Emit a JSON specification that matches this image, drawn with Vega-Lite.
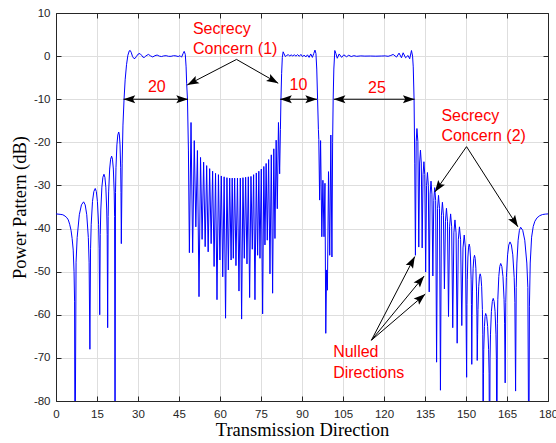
{
  "$schema": "https://vega.github.io/schema/vega-lite/v6.json",
  "width": 492,
  "height": 388,
  "autosize": {"type": "none"},
  "padding": {"left": 56, "top": 13, "right": 8, "bottom": 42},
  "background": "white",
  "config": {"view": {"stroke": null}},
  "datasets": {
    "pattern": [
      {"dir":0,"pp":-36.6},{"dir":1.5,"pp":-36.7},{"dir":2.5,"pp":-36.8},{"dir":3.3,"pp":-37.1},{"dir":4.0,"pp":-37.5},{"dir":4.5,"pp":-38.0},{"dir":5.0,"pp":-39.0},{"dir":5.5,"pp":-40.4},{"dir":5.9,"pp":-42.3},{"dir":6.3,"pp":-45},{"dir":6.6,"pp":-50},{"dir":6.8,"pp":-57},{"dir":6.95,"pp":-100},
      {"dir":7.34,"pp":-47.8},{"dir":7.74,"pp":-42.1},{"dir":8.53,"pp":-36.8},{"dir":9.31,"pp":-34.5},{"dir":10.1,"pp":-33.8},{"dir":10.68,"pp":-34.5},{"dir":11.25,"pp":-36.8},{"dir":11.83,"pp":-42.1},{"dir":12.11,"pp":-47.8},{"dir":12.4,"pp":-68},
      {"dir":12.64,"pp":-44.7},{"dir":12.88,"pp":-39},{"dir":13.35,"pp":-33.7},{"dir":13.85,"pp":-31.4},{"dir":14.35,"pp":-30.7},{"dir":14.75,"pp":-31.4},{"dir":15.15,"pp":-33.7},{"dir":15.58,"pp":-39},{"dir":15.79,"pp":-44.7},{"dir":16.0,"pp":-60},
      {"dir":16.19,"pp":-41.4},{"dir":16.39,"pp":-35.7},{"dir":16.78,"pp":-30.4},{"dir":17.16,"pp":-28.1},{"dir":17.55,"pp":-27.4},{"dir":17.89,"pp":-28.1},{"dir":18.23,"pp":-30.4},{"dir":18.56,"pp":-35.7},{"dir":18.73,"pp":-41.4},{"dir":18.9,"pp":-63},
      {"dir":19.08,"pp":-37.2},{"dir":19.26,"pp":-31.5},{"dir":19.63,"pp":-26.2},{"dir":19.99,"pp":-23.9},{"dir":20.35,"pp":-23.2},{"dir":20.66,"pp":-23.9},{"dir":20.98,"pp":-26.2},{"dir":21.29,"pp":-31.5},{"dir":21.44,"pp":-37.2},{"dir":21.6,"pp":-100},
      {"dir":21.77,"pp":-31.6},{"dir":21.94,"pp":-25.9},{"dir":22.28,"pp":-20.6},{"dir":22.61,"pp":-18.3},{"dir":22.95,"pp":-17.6},{"dir":23.19,"pp":-18.3},{"dir":23.43,"pp":-20.6},{"dir":23.66,"pp":-25.9},{"dir":23.78,"pp":-31.6},{"dir":23.9,"pp":-43.5},
      {"dir":24.2,"pp":-25},{"dir":24.5,"pp":-16},{"dir":24.9,"pp":-10},{"dir":25.3,"pp":-5.5},{"dir":25.8,"pp":-2},{"dir":26.3,"pp":0.2},{"dir":26.8,"pp":1.2},{"dir":27.1,"pp":1.35},{"dir":27.5,"pp":0.9},{"dir":28.0,"pp":-0.1},{"dir":28.5,"pp":-0.55},{"dir":28.9,"pp":-0.55},{"dir":29.4,"pp":-0.1},{"dir":30.0,"pp":0.45},{"dir":30.7,"pp":0.6},{"dir":31.3,"pp":0.2},{"dir":31.8,"pp":-0.25},{"dir":32.3,"pp":-0.3},{"dir":32.9,"pp":0.05},{"dir":33.8,"pp":0.4},{"dir":34.6,"pp":0.05},{"dir":35.4,"pp":-0.2},{"dir":36.2,"pp":0.1},{"dir":37.0,"pp":0.25},{"dir":37.8,"pp":0.0},{"dir":38.6,"pp":-0.1},{"dir":39.4,"pp":0.05},{"dir":40.3,"pp":0.1},{"dir":41.2,"pp":-0.05},{"dir":42.1,"pp":-0.05},{"dir":43.0,"pp":0.1},{"dir":43.9,"pp":0.05},{"dir":44.7,"pp":-0.1},{"dir":45.4,"pp":0.1},{"dir":45.95,"pp":-0.25},{"dir":46.5,"pp":0.6},{"dir":46.9,"pp":1.1},{"dir":47.3,"pp":0.4},{"dir":47.6,"pp":-2.5},{"dir":47.8,"pp":-6.3},{"dir":48.1,"pp":-10},{"dir":48.45,"pp":-22},{"dir":48.8,"pp":-45.6},
      {"dir":49.4,"pp":-15.4},{"dir":50.0,"pp":-45.6},{"dir":50.58,"pp":-19.6},{"dir":51.16,"pp":-39.6},{"dir":51.74,"pp":-21.9},{"dir":52.32,"pp":-55.8},{"dir":52.88,"pp":-23.5},{"dir":53.45,"pp":-42.5},{"dir":54.01,"pp":-24.6},{"dir":54.57,"pp":-44.2},{"dir":55.12,"pp":-25.4},{"dir":55.67,"pp":-45.4},{"dir":56.22,"pp":-26.1},{"dir":56.76,"pp":-43.5},{"dir":57.3,"pp":-26.7},{"dir":57.84,"pp":-48.8},{"dir":58.37,"pp":-27.2},{"dir":58.9,"pp":-56.5},{"dir":59.43,"pp":-27.5},{"dir":59.96,"pp":-47.3},{"dir":60.48,"pp":-27.8},{"dir":61.0,"pp":-51.2},{"dir":61.52,"pp":-28.0},{"dir":62.03,"pp":-60.8},{"dir":62.54,"pp":-28.2},{"dir":63.05,"pp":-49.6},{"dir":63.55,"pp":-28.3},{"dir":64.06,"pp":-47.3},
      {"dir":64.47,"pp":-28.3},{"dir":64.87,"pp":-46.9},{"dir":65.36,"pp":-28.3},{"dir":65.84,"pp":-48.6},{"dir":66.39,"pp":-28.3},{"dir":66.94,"pp":-54.5},{"dir":67.43,"pp":-28.3},{"dir":67.91,"pp":-61},{"dir":68.4,"pp":-28.2},{"dir":68.89,"pp":-46.9},{"dir":69.38,"pp":-28.1},{"dir":69.87,"pp":-48.2},{"dir":70.36,"pp":-28.0},{"dir":70.84,"pp":-56},{"dir":71.33,"pp":-27.9},{"dir":71.82,"pp":-44.8},{"dir":72.3,"pp":-27.5},{"dir":72.79,"pp":-56.5},{"dir":73.28,"pp":-27.1},{"dir":73.77,"pp":-46.2},{"dir":74.2,"pp":-26.7},{"dir":74.62,"pp":-46.9},{"dir":75.11,"pp":-26.2},{"dir":75.6,"pp":-59.8},{"dir":76.03,"pp":-25.6},{"dir":76.45,"pp":-43.8},{"dir":76.88,"pp":-24.9},{"dir":77.3,"pp":-42.7},{"dir":77.79,"pp":-24.0},{"dir":78.28,"pp":-50.5},{"dir":78.77,"pp":-22.9},{"dir":79.25,"pp":-55},{"dir":79.68,"pp":-21.5},{"dir":80.11,"pp":-42.3},{"dir":80.54,"pp":-19.5},{"dir":80.96,"pp":-35.4},{"dir":81.39,"pp":-15.4},{"dir":81.82,"pp":-27.3},
      {"dir":82.1,"pp":-17},{"dir":82.3,"pp":-10},{"dir":82.55,"pp":-4},{"dir":82.8,"pp":-0.3},{"dir":83.1,"pp":1.0},{"dir":83.45,"pp":0.5},{"dir":83.9,"pp":-0.1},{"dir":84.4,"pp":0.15},{"dir":85.0,"pp":0.35},{"dir":85.5,"pp":0.0},{"dir":86.0,"pp":0.3},{"dir":86.6,"pp":0.05},{"dir":87.2,"pp":0.3},{"dir":87.8,"pp":0.0},{"dir":88.4,"pp":0.35},{"dir":89.0,"pp":-0.05},{"dir":89.6,"pp":0.4},{"dir":90.2,"pp":-0.15},{"dir":90.8,"pp":0.25},{"dir":91.4,"pp":-0.2},{"dir":92.0,"pp":0.3},{"dir":92.6,"pp":-0.3},{"dir":93.2,"pp":0.5},{"dir":93.8,"pp":-0.3},{"dir":94.3,"pp":0.6},{"dir":94.75,"pp":1.4},{"dir":95.1,"pp":0.6},{"dir":95.4,"pp":-3},{"dir":95.7,"pp":-10},
      {"dir":96.0,"pp":-17},{"dir":96.15,"pp":-19.3},{"dir":96.45,"pp":-33.4},{"dir":96.8,"pp":-19.6},{"dir":97.25,"pp":-41.9},{"dir":97.65,"pp":-28.8},{"dir":98.05,"pp":-41.9},{"dir":98.4,"pp":-29.5},{"dir":98.7,"pp":-64.3},{"dir":99.0,"pp":-49.6},{"dir":99.3,"pp":-54.3},{"dir":99.7,"pp":-26.8},{"dir":100.15,"pp":-46.2},{"dir":100.55,"pp":-18.3},{"dir":100.95,"pp":-46.6},
      {"dir":101.2,"pp":-20},{"dir":101.4,"pp":-10},{"dir":101.65,"pp":-3},{"dir":102.0,"pp":1.3},{"dir":102.4,"pp":0.6},{"dir":102.9,"pp":-0.5},{"dir":103.6,"pp":0.5},{"dir":104.5,"pp":-0.3},{"dir":105.3,"pp":0.3},{"dir":106.3,"pp":-0.15},{"dir":107.1,"pp":0.2},{"dir":108.0,"pp":-0.1},{"dir":109.0,"pp":0.1},{"dir":110.0,"pp":-0.05},{"dir":111.5,"pp":0.05},{"dir":113.0,"pp":0},{"dir":115.0,"pp":0.02},{"dir":117.0,"pp":-0.02},{"dir":119.0,"pp":0.02},{"dir":120.5,"pp":0.05},{"dir":121.5,"pp":-0.05},{"dir":122.5,"pp":0.15},{"dir":123.35,"pp":0.39},{"dir":124.6,"pp":-0.23},{"dir":125.5,"pp":0.7},{"dir":126.4,"pp":-0.39},{"dir":127.0,"pp":0.77},{"dir":127.9,"pp":-0.39},{"dir":128.8,"pp":0.15},{"dir":129.4,"pp":-0.62},{"dir":130.05,"pp":1.3},{"dir":130.45,"pp":0.0},{"dir":130.7,"pp":-2.5},{"dir":131.0,"pp":-10},{"dir":131.25,"pp":-25},{"dir":131.5,"pp":-46.2},
      {"dir":131.78,"pp":-19.8},{"dir":132.05,"pp":-16.8},{"dir":132.39,"pp":-19.8},{"dir":132.72,"pp":-44.3},{"dir":133.03,"pp":-24.8},{"dir":133.34,"pp":-21.8},{"dir":133.65,"pp":-24.8},{"dir":133.96,"pp":-44.5},{"dir":134.28,"pp":-27.5},{"dir":134.6,"pp":-24.5},{"dir":134.92,"pp":-27.5},{"dir":135.24,"pp":-50.1},{"dir":135.57,"pp":-30},{"dir":135.89,"pp":-27},{"dir":136.22,"pp":-30},{"dir":136.54,"pp":-54.7},{"dir":136.87,"pp":-32},{"dir":137.2,"pp":-29},{"dir":137.54,"pp":-32},{"dir":137.87,"pp":-51},{"dir":138.21,"pp":-33.5},{"dir":138.55,"pp":-30.5},{"dir":138.9,"pp":-33.5},{"dir":139.24,"pp":-71},{"dir":139.6,"pp":-35.3},{"dir":139.95,"pp":-32.3},{"dir":140.3,"pp":-35.3},{"dir":140.65,"pp":-77.5},{"dir":141.01,"pp":-36.9},{"dir":141.37,"pp":-33.9},{"dir":141.74,"pp":-36.9},{"dir":142.1,"pp":-54},{"dir":142.48,"pp":-38.3},{"dir":142.85,"pp":-35.3},{"dir":143.23,"pp":-38.3},{"dir":143.6,"pp":-60.4},{"dir":143.99,"pp":-39.6},{"dir":144.37,"pp":-36.6},{"dir":144.76,"pp":-39.6},{"dir":145.15,"pp":-63},{"dir":145.56,"pp":-41},{"dir":145.96,"pp":-38},{"dir":146.37,"pp":-41},{"dir":146.77,"pp":-66.6},{"dir":147.19,"pp":-42.6},{"dir":147.6,"pp":-39.6},{"dir":148.03,"pp":-42.6},{"dir":148.46,"pp":-62.5},{"dir":148.9,"pp":-44.5},{"dir":149.35,"pp":-41.5},{"dir":149.79,"pp":-44.5},{"dir":150.23,"pp":-74.5},
      {"dir":150.35,"pp":-57.6},{"dir":150.47,"pp":-51.9},{"dir":150.7,"pp":-46.6},{"dir":150.94,"pp":-44.3},{"dir":151.17,"pp":-43.6},{"dir":151.41,"pp":-44.3},{"dir":151.64,"pp":-46.6},{"dir":151.88,"pp":-51.9},{"dir":151.99,"pp":-57.6},{"dir":152.11,"pp":-71.5},
      {"dir":152.24,"pp":-60.2},{"dir":152.36,"pp":-54.5},{"dir":152.61,"pp":-49.2},{"dir":152.86,"pp":-46.9},{"dir":153.11,"pp":-46.2},{"dir":153.36,"pp":-46.9},{"dir":153.61,"pp":-49.2},{"dir":153.86,"pp":-54.5},{"dir":153.99,"pp":-60.2},{"dir":154.11,"pp":-70.6},
      {"dir":154.25,"pp":-64.5},{"dir":154.38,"pp":-58.8},{"dir":154.65,"pp":-53.5},{"dir":154.92,"pp":-51.2},{"dir":155.19,"pp":-50.5},{"dir":155.46,"pp":-51.2},{"dir":155.73,"pp":-53.5},{"dir":156.0,"pp":-58.8},{"dir":156.14,"pp":-64.5},{"dir":156.27,"pp":-100},
      {"dir":156.39,"pp":-73.7},{"dir":156.5,"pp":-68},{"dir":156.74,"pp":-62.7},{"dir":156.97,"pp":-60.4},{"dir":157.2,"pp":-59.7},{"dir":157.56,"pp":-60.4},{"dir":157.92,"pp":-62.7},{"dir":158.27,"pp":-68},{"dir":158.45,"pp":-73.7},{"dir":158.63,"pp":-100},
      {"dir":158.8,"pp":-70.2},{"dir":158.96,"pp":-64.5},{"dir":159.3,"pp":-59.2},{"dir":159.63,"pp":-56.9},{"dir":159.96,"pp":-56.2},{"dir":160.29,"pp":-56.9},{"dir":160.63,"pp":-59.2},{"dir":160.96,"pp":-64.5},{"dir":161.12,"pp":-70.2},{"dir":161.29,"pp":-100},
      {"dir":161.47,"pp":-62.1},{"dir":161.64,"pp":-56.4},{"dir":162.0,"pp":-51.1},{"dir":162.35,"pp":-48.8},{"dir":162.7,"pp":-48.1},{"dir":163.11,"pp":-48.8},{"dir":163.52,"pp":-51.1},{"dir":163.92,"pp":-56.4},{"dir":164.13,"pp":-62.1},{"dir":164.33,"pp":-75.8},
      {"dir":164.55,"pp":-57.1},{"dir":164.77,"pp":-51.4},{"dir":165.22,"pp":-46.1},{"dir":165.66,"pp":-43.8},{"dir":166.1,"pp":-43.1},{"dir":166.61,"pp":-43.8},{"dir":167.12,"pp":-46.1},{"dir":167.63,"pp":-51.4},{"dir":167.88,"pp":-57.1},{"dir":168.14,"pp":-77.7},
      {"dir":168.37,"pp":-53.7},{"dir":168.61,"pp":-48},{"dir":169.07,"pp":-42.7},{"dir":169.54,"pp":-40.4},{"dir":170.0,"pp":-39.7},{"dir":170.75,"pp":-40.4},{"dir":171.5,"pp":-42.7},{"dir":172.25,"pp":-48},{"dir":172.63,"pp":-53.7},{"dir":173.0,"pp":-100},
      {"dir":173.2,"pp":-58},{"dir":173.5,"pp":-48},{"dir":174.0,"pp":-42},{"dir":174.6,"pp":-39.5},{"dir":175.2,"pp":-38.3},{"dir":176.0,"pp":-37.5},{"dir":177.0,"pp":-37.0},{"dir":178.0,"pp":-36.75},{"dir":179.0,"pp":-36.65},{"dir":180.0,"pp":-36.6}
    ],
    "arrows": [
      {"x":24.7,"y":-10,"x2":48.3,"y2":-10},
      {"x":82.0,"y":-10,"x2":95.5,"y2":-10},
      {"x":101.6,"y":-10,"x2":131.2,"y2":-10},
      {"x":66.05,"y":-0.77,"x2":48.0,"y2":-6.7},
      {"x":66.05,"y":-0.77,"x2":81.3,"y2":-6.3},
      {"x":150.2,"y":-21.0,"x2":138.6,"y2":-31.5},
      {"x":150.2,"y":-21.0,"x2":169.0,"y2":-39.6},
      {"x":115.4,"y":-65.9,"x2":131.26,"y2":-46.5},
      {"x":115.4,"y":-65.9,"x2":134.7,"y2":-51.0},
      {"x":115.4,"y":-65.9,"x2":135.1,"y2":-55.2}
    ],
    "heads": [
      {"x":24.7,"y":-10,"fx":48.3,"fy":-10},
      {"x":48.3,"y":-10,"fx":24.7,"fy":-10},
      {"x":82.0,"y":-10,"fx":95.5,"fy":-10},
      {"x":95.5,"y":-10,"fx":82.0,"fy":-10},
      {"x":101.6,"y":-10,"fx":131.2,"fy":-10},
      {"x":131.2,"y":-10,"fx":101.6,"fy":-10},
      {"x":48.0,"y":-6.7,"fx":66.05,"fy":-0.77},
      {"x":81.3,"y":-6.3,"fx":66.05,"fy":-0.77},
      {"x":138.6,"y":-31.5,"fx":150.2,"fy":-21.0},
      {"x":169.0,"y":-39.6,"fx":150.2,"fy":-21.0},
      {"x":131.26,"y":-46.5,"fx":115.4,"fy":-65.9},
      {"x":134.7,"y":-51.0,"fx":115.4,"fy":-65.9},
      {"x":135.1,"y":-55.2,"fx":115.4,"fy":-65.9}
    ],
    "notes": [
      {"tx":50.1,"ty":5.03,"label":"Secrecy"},
      {"tx":50.1,"ty":0.39,"label":"Concern (1)"},
      {"tx":141.0,"ty":-15.0,"label":"Secrecy"},
      {"tx":141.0,"ty":-19.65,"label":"Concern (2)"},
      {"tx":101.4,"ty":-69.9,"label":"Nulled"},
      {"tx":101.4,"ty":-74.55,"label":"Directions"}
    ],
    "spans": [
      {"tx":36.9,"ty":-8.3,"label":"20"},
      {"tx":88.7,"ty":-7.9,"label":"10"},
      {"tx":117.4,"ty":-8.66,"label":"25"}
    ],
    "frame": [{"dir":0,"pp":-80},{"dir":180,"pp":10}]
  },
  "layer": [
    {
      "data": {"name": "pattern"},
      "mark": {"type": "line", "color": "#0000ff", "strokeWidth": 1, "clip": true},
      "encoding": {
        "x": {"field": "dir", "type": "quantitative",
          "scale": {"domain": [0, 180], "nice": false, "zero": false},
          "axis": {"orient": "bottom", "values": [0,15,30,45,60,75,90,105,120,135,150,165,180],
            "labelExpr": "'' + datum.value", "labelFlush": false, "labelOverlap": false,
            "grid": true, "gridColor": "#dedede", "gridWidth": 1,
            "domain": true, "domainColor": "#262626", "domainWidth": 1,
            "ticks": true, "tickSize": -5, "tickColor": "#262626", "tickWidth": 1,
            "labelPadding": 12.3, "labelFont": "Liberation Sans", "labelFontSize": 11.5, "labelColor": "#262626",
            "title": "Transmission Direction", "titleFont": "Liberation Serif", "titleFontSize": 18.5, "titleFontWeight": "normal", "titleColor": "#000000",
            "titleX": 246, "titleY": 34, "titleAlign": "center", "titleBaseline": "alphabetic", "titleAnchor": null}},
        "y": {"field": "pp", "type": "quantitative",
          "scale": {"domain": [-80, 10], "nice": false, "zero": false},
          "axis": {"orient": "left", "values": [-80,-70,-60,-50,-40,-30,-20,-10,0,10],
            "labelExpr": "'' + datum.value", "labelFlush": false, "labelOverlap": false,
            "grid": true, "gridColor": "#dedede", "gridWidth": 1,
            "domain": true, "domainColor": "#262626", "domainWidth": 1,
            "ticks": true, "tickSize": -5, "tickColor": "#262626", "tickWidth": 1,
            "labelPadding": 11, "labelFont": "Liberation Sans", "labelFontSize": 11.5, "labelColor": "#262626",
            "title": "Power Pattern (dB)", "titleFont": "Liberation Serif", "titleFontSize": 18.5, "titleFontWeight": "normal", "titleColor": "#000000",
            "titleX": -31, "titleY": 194, "titleAngle": 270, "titleAlign": "center", "titleBaseline": "alphabetic", "titleAnchor": null}}
      }
    },
    {
      "data": {"name": "arrows"},
      "mark": {"type": "rule", "color": "#000000", "strokeWidth": 1},
      "encoding": {
        "x": {"field": "x", "type": "quantitative", "axis": null},
        "y": {"field": "y", "type": "quantitative", "axis": null},
        "x2": {"field": "x2"},
        "y2": {"field": "y2"}
      }
    },
    {
      "data": {"name": "heads"},
      "transform": [{"calculate": "atan2((datum.x - datum.fx) * 2.735, (datum.y - datum.fy) * 4.31) * 180 / PI", "as": "ang"}],
      "mark": {"type": "point", "shape": "M0,0 L0.35,1 L0,0.8 L-0.35,1 Z", "filled": true, "color": "#000000", "opacity": 1, "size": 548, "strokeWidth": 0},
      "encoding": {
        "x": {"field": "x", "type": "quantitative", "axis": null},
        "y": {"field": "y", "type": "quantitative", "axis": null},
        "angle": {"field": "ang", "type": "quantitative", "scale": null}
      }
    },
    {
      "data": {"name": "notes"},
      "mark": {"type": "text", "align": "left", "baseline": "alphabetic", "font": "Liberation Sans", "fontSize": 16, "color": "#ff0000"},
      "encoding": {
        "x": {"field": "tx", "type": "quantitative", "axis": null},
        "y": {"field": "ty", "type": "quantitative", "axis": null},
        "text": {"field": "label"}
      }
    },
    {
      "data": {"name": "spans"},
      "mark": {"type": "text", "align": "center", "baseline": "alphabetic", "font": "Liberation Sans", "fontSize": 16, "color": "#ff0000"},
      "encoding": {
        "x": {"field": "tx", "type": "quantitative", "axis": null},
        "y": {"field": "ty", "type": "quantitative", "axis": null},
        "text": {"field": "label"}
      }
    },
    {
      "data": {"name": "frame"},
      "mark": {"type": "point", "opacity": 0},
      "encoding": {
        "x": {"field": "dir", "type": "quantitative",
          "axis": {"orient": "top", "values": [0,15,30,45,60,75,90,105,120,135,150,165,180], "labels": false, "grid": false, "title": null,
            "domain": true, "domainColor": "#262626", "domainWidth": 1, "ticks": true, "tickSize": -5, "tickColor": "#262626", "tickWidth": 1}},
        "y": {"field": "pp", "type": "quantitative",
          "axis": {"orient": "right", "values": [-80,-70,-60,-50,-40,-30,-20,-10,0,10], "labels": false, "grid": false, "title": null,
            "domain": true, "domainColor": "#262626", "domainWidth": 1, "ticks": true, "tickSize": -5, "tickColor": "#262626", "tickWidth": 1}}
      }
    }
  ],
  "resolve": {"axis": {"x": "independent", "y": "independent"}}
}
